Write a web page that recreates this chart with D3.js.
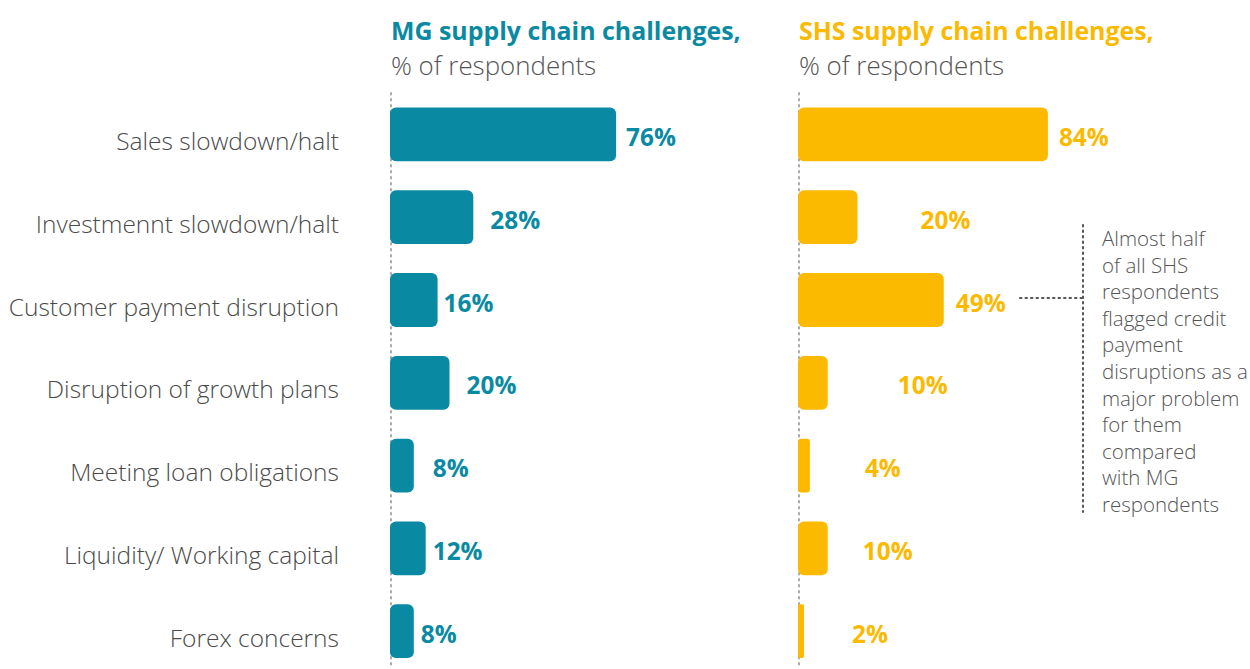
<!DOCTYPE html>
<html>
<head>
<meta charset="utf-8">
<script src="https://cdn.jsdelivr.net/npm/d3@7"></script>
<style>
  body { margin: 0; background: #fff; }
  svg text { font-family: "Open Sans", Lato, sans-serif; }
</style>
</head>
<body>
<div class="content"></div>
<script>
const SVG_WIDTH = 1250
const SVG_HEIGHT = 669

const categories = ["Sales slowdown/halt", "Investmennt slowdown/halt", "Customer payment disruption",
  "Disruption of growth plans", "Meeting loan obligations", "Liquidity/ Working capital", "Forex concerns"];
const mgValues = [76, 28, 16, 20, 8, 12, 8];
const shsValues = [84, 20, 49, 10, 4, 10, 2];
// label offsets from bar end (px), as laid out in the original
const mgLabelShift = [10, 17, 6, 17, 19, 7, 7];
const shsLabelShift = [11, 63, 12, 70, 55, 35, 48];
const noteLines = ["Almost half", "of all SHS", "respondents", "flagged credit", "payment",
  "disruptions as a", "major problem", "for them", "compared", "with MG", "respondents"];

const TEAL = "#0a8aa2";
const GOLD = "#fbb900";

let svg = d3.select(".content").append("svg").attr("width", SVG_WIDTH).attr("height", SVG_HEIGHT);

let yscale = d3.scaleBand()
  .domain(categories)
  .range([93, 672.6])
  .paddingInner(0.35)
  .paddingOuter(0.175);

// category labels
svg.append("g").selectAll("text")
  .data(categories)
  .join("text")
  .attr("x", 339)
  .attr("y", d => yscale(d) + yscale.bandwidth() / 2 + 7)
  .attr("dy", "0.35em")
  .attr("text-anchor", "end")
  .style("font-size", "24.5px")
  .style("font-weight", 300)
  .style("fill", "#4a4a4a")
  .text(d => d);

function drawPanel(x0, values, shifts, color, title) {
  let xscale = d3.scaleLinear().domain([0, 100]).range([x0, x0 + 297.5]);
  let g = svg.append("g");

  // titles
  g.append("text").attr("x", x0 + 1).attr("y", 40)
    .style("font-size", "24.9px").style("font-weight", "bold").style("fill", color)
    .text(title);
  g.append("text").attr("x", x0 + 1).attr("y", 75)
    .style("font-size", "25.9px").style("font-weight", 300).style("fill", "#555")
    .text("% of respondents");

  // dotted baseline
  g.append("line")
    .attr("x1", x0 + 1).attr("x2", x0 + 1)
    .attr("y1", 93).attr("y2", SVG_HEIGHT)
    .style("stroke", "#aaa").style("stroke-width", 2)
    .style("stroke-dasharray", "1.5,4.5").style("stroke-linecap", "round");

  g.selectAll("rect")
    .data(values)
    .join("rect")
    .attr("x", xscale(0))
    .attr("y", (d, i) => yscale(categories[i]))
    .attr("width", d => xscale(d) - xscale(0))
    .attr("height", yscale.bandwidth())
    .attr("rx", d => Math.min(6, (xscale(d) - xscale(0)) / 4))
    .style("fill", color);

  g.selectAll("text.val")
    .data(values)
    .join("text")
    .attr("class", "val")
    .attr("x", (d, i) => xscale(d) + shifts[i])
    .attr("y", (d, i) => yscale(categories[i]) + yscale.bandwidth() / 2 + 3)
    .attr("dy", "0.35em")
    .style("font-size", "24.4px")
    .style("font-weight", "bold")
    .style("fill", color)
    .text(d => d + "%");
}

drawPanel(390, mgValues, mgLabelShift, TEAL, "MG supply chain challenges,");
drawPanel(798, shsValues, shsLabelShift, GOLD, "SHS supply chain challenges,");

// annotation
let note = svg.append("g");
let noteY = yscale(categories[2]) + yscale.bandwidth() / 2 - 2;
note.append("line")
  .attr("x1", 1020).attr("x2", 1083).attr("y1", noteY).attr("y2", noteY)
  .style("stroke", "#555").style("stroke-width", 2)
  .style("stroke-dasharray", "1.5,4").style("stroke-linecap", "round");
note.append("line")
  .attr("x1", 1083).attr("x2", 1083).attr("y1", 225).attr("y2", 512)
  .style("stroke", "#555").style("stroke-width", 2)
  .style("stroke-dasharray", "1.5,4").style("stroke-linecap", "round");
note.selectAll("text")
  .data(noteLines)
  .join("text")
  .attr("x", 1102)
  .attr("y", (d, i) => 246 + i * 26.6)
  .style("font-size", "20.5px")
  .style("font-weight", 300)
  .style("fill", "#555")
  .text(d => d);
</script>
</body>
</html>
